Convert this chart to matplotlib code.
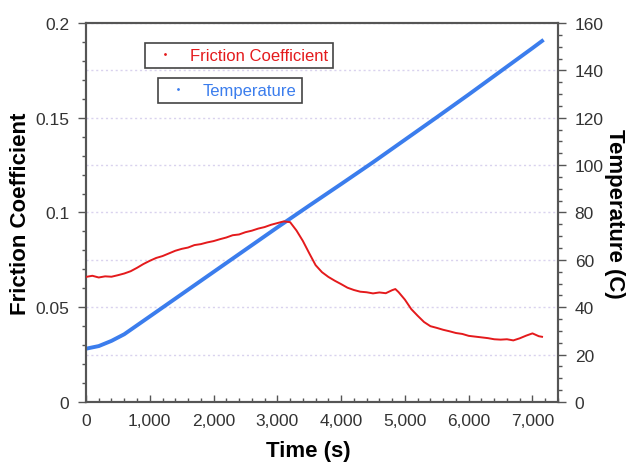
import matplotlib
matplotlib.use("Agg")
from matplotlib import pyplot as plt
from matplotlib.lines import Line2D
from matplotlib.ticker import MultipleLocator, FuncFormatter

plt.rc("font", family=["Liberation Sans", "DejaVu Sans"])

# friction coefficient vs time
time_f = [0, 100, 200, 300, 400, 500, 600, 700, 800, 900,
          1000, 1100, 1200, 1300, 1400, 1500, 1600, 1700, 1800, 1900,
          2000, 2100, 2200, 2300, 2400, 2500, 2600, 2700, 2800, 2900,
          3000, 3100, 3200, 3300, 3400, 3500, 3600, 3700, 3800, 3900,
          4000, 4100, 4200, 4300, 4400, 4500, 4600, 4700, 4800, 4850,
          4900, 5000, 5100, 5200, 5300, 5400, 5500, 5600, 5700, 5800,
          5900, 6000, 6100, 6200, 6300, 6400, 6500, 6600, 6700, 6800,
          6900, 7000, 7100, 7150]
friction = [0.0660, 0.0666, 0.0657, 0.0663, 0.0661, 0.0669, 0.0678, 0.0690, 0.0708, 0.0728,
            0.0745, 0.0760, 0.0770, 0.0784, 0.0798, 0.0808, 0.0815, 0.0828, 0.0833, 0.0842,
            0.0849, 0.0859, 0.0868, 0.0880, 0.0884, 0.0896, 0.0904, 0.0915, 0.0923, 0.0935,
            0.0944, 0.0953, 0.0949, 0.0905, 0.0850, 0.0785, 0.0722, 0.0685, 0.0660, 0.0640,
            0.0622, 0.0603, 0.0591, 0.0582, 0.0579, 0.0573, 0.0578, 0.0574, 0.0590, 0.0596,
            0.0580, 0.0540, 0.0490, 0.0455, 0.0422, 0.0400, 0.0391, 0.0381, 0.0373, 0.0364,
            0.0359, 0.0349, 0.0345, 0.0341, 0.0337, 0.0331, 0.0329, 0.0331, 0.0325, 0.0336,
            0.0350, 0.0362, 0.0347, 0.0344]

# temperature vs time
time_t = [0, 200, 400, 600, 1000, 1500, 2000, 2500, 3000, 3500,
          4000, 4500, 5000, 5500, 6000, 6500, 7000, 7150]
temperature = [22.5, 23.6, 25.8, 28.6, 36.1, 45.5, 54.9, 64.3, 73.7, 82.9,
               92.0, 101.2, 110.7, 120.2, 129.8, 139.6, 149.4, 152.4]

red = "#e41a1c"
blue = "#3b7ded"
spine_col = "#555555"
grid_col = "#d9d2ee"

fig = plt.figure(figsize=(6.29, 4.64), dpi=100)
ax = fig.add_axes([0.1367, 0.1315, 0.7504, 0.8168])
ax2 = ax.twinx()

ax.plot(time_f, friction, color=red, lw=1.4, zorder=3)
ax2.plot(time_t, temperature, color=blue, lw=2.8, zorder=3)

ax.set_xlim(0, 7400)
ax.set_ylim(0, 0.2)
ax2.set_ylim(0, 160)

ax.xaxis.set_major_locator(MultipleLocator(1000))
ax.xaxis.set_minor_locator(MultipleLocator(200))
ax.xaxis.set_major_formatter(FuncFormatter(lambda v, p: f"{int(v):,}"))
ax.yaxis.set_major_locator(MultipleLocator(0.05))
ax.yaxis.set_minor_locator(MultipleLocator(0.01))
ax.yaxis.set_major_formatter(FuncFormatter(lambda v, p: "0" if v == 0 else f"{v:g}"))
ax2.yaxis.set_major_locator(MultipleLocator(20))
ax2.yaxis.set_minor_locator(MultipleLocator(5))

# dotted grid follows the temperature scale
ax2.grid(axis="y", which="major", color=grid_col, ls=(0, (1.5, 2)), lw=1.0)
ax2.set_zorder(ax.get_zorder() - 1)
ax.patch.set_visible(False)
ax2.patch.set_visible(True)

for a in (ax, ax2):
    for s in a.spines.values():
        s.set_color(spine_col)
        s.set_linewidth(1.5)

ax.tick_params(axis="x", direction="in", length=5, width=1, color=spine_col,
               labelsize=12.5, labelcolor="#333333", pad=8)
ax.tick_params(axis="x", which="minor", direction="in", length=3, width=1, color=spine_col)
ax.tick_params(axis="y", direction="out", length=6, width=1, color=spine_col,
               labelsize=12.5, labelcolor="#333333", pad=6)
ax.tick_params(axis="y", which="minor", direction="out", length=3, width=1, color=spine_col)
ax2.tick_params(axis="y", direction="out", length=6, width=1, color=spine_col,
                labelsize=12.5, labelcolor="#333333", pad=6)
ax2.tick_params(axis="y", which="minor", direction="out", length=3, width=1, color=spine_col)

ax.set_xlabel("Time (s)", fontsize=16, fontweight="bold", va="center")
ax.xaxis.set_label_coords(0.472, -0.129)
ax.set_ylabel("Friction Coefficient", fontsize=16, fontweight="bold", va="center")
ax.yaxis.set_label_coords(-0.138, 0.5)
ax2.set_ylabel("Temperature (C)", fontsize=16, fontweight="bold", rotation=270,
               va="center", ha="center")
ax2.yaxis.set_label_coords(1.12, 0.5)

# two separate legend boxes
h_f = Line2D([], [], ls="none", marker=".", ms=2, color=red)
h_t = Line2D([], [], ls="none", marker=".", ms=2, color=blue)
leg_kw = dict(loc="upper left", fontsize=12, frameon=True, fancybox=False,
              handlelength=1.8, handletextpad=0.6, borderpad=0.3, borderaxespad=0,
              edgecolor="#444444", framealpha=1)
leg1 = ax.legend([h_f], ["Friction Coefficient"], bbox_to_anchor=(0.125, 0.947), **leg_kw)
leg1.get_texts()[0].set_color(red)
leg1.get_frame().set_linewidth(1.2)
ax.add_artist(leg1)
leg2 = ax.legend([h_t], ["Temperature"], bbox_to_anchor=(0.1525, 0.855), **leg_kw)
leg2.get_texts()[0].set_color(blue)
leg2.get_frame().set_linewidth(1.2)

fig.savefig("out.png", dpi=100)
